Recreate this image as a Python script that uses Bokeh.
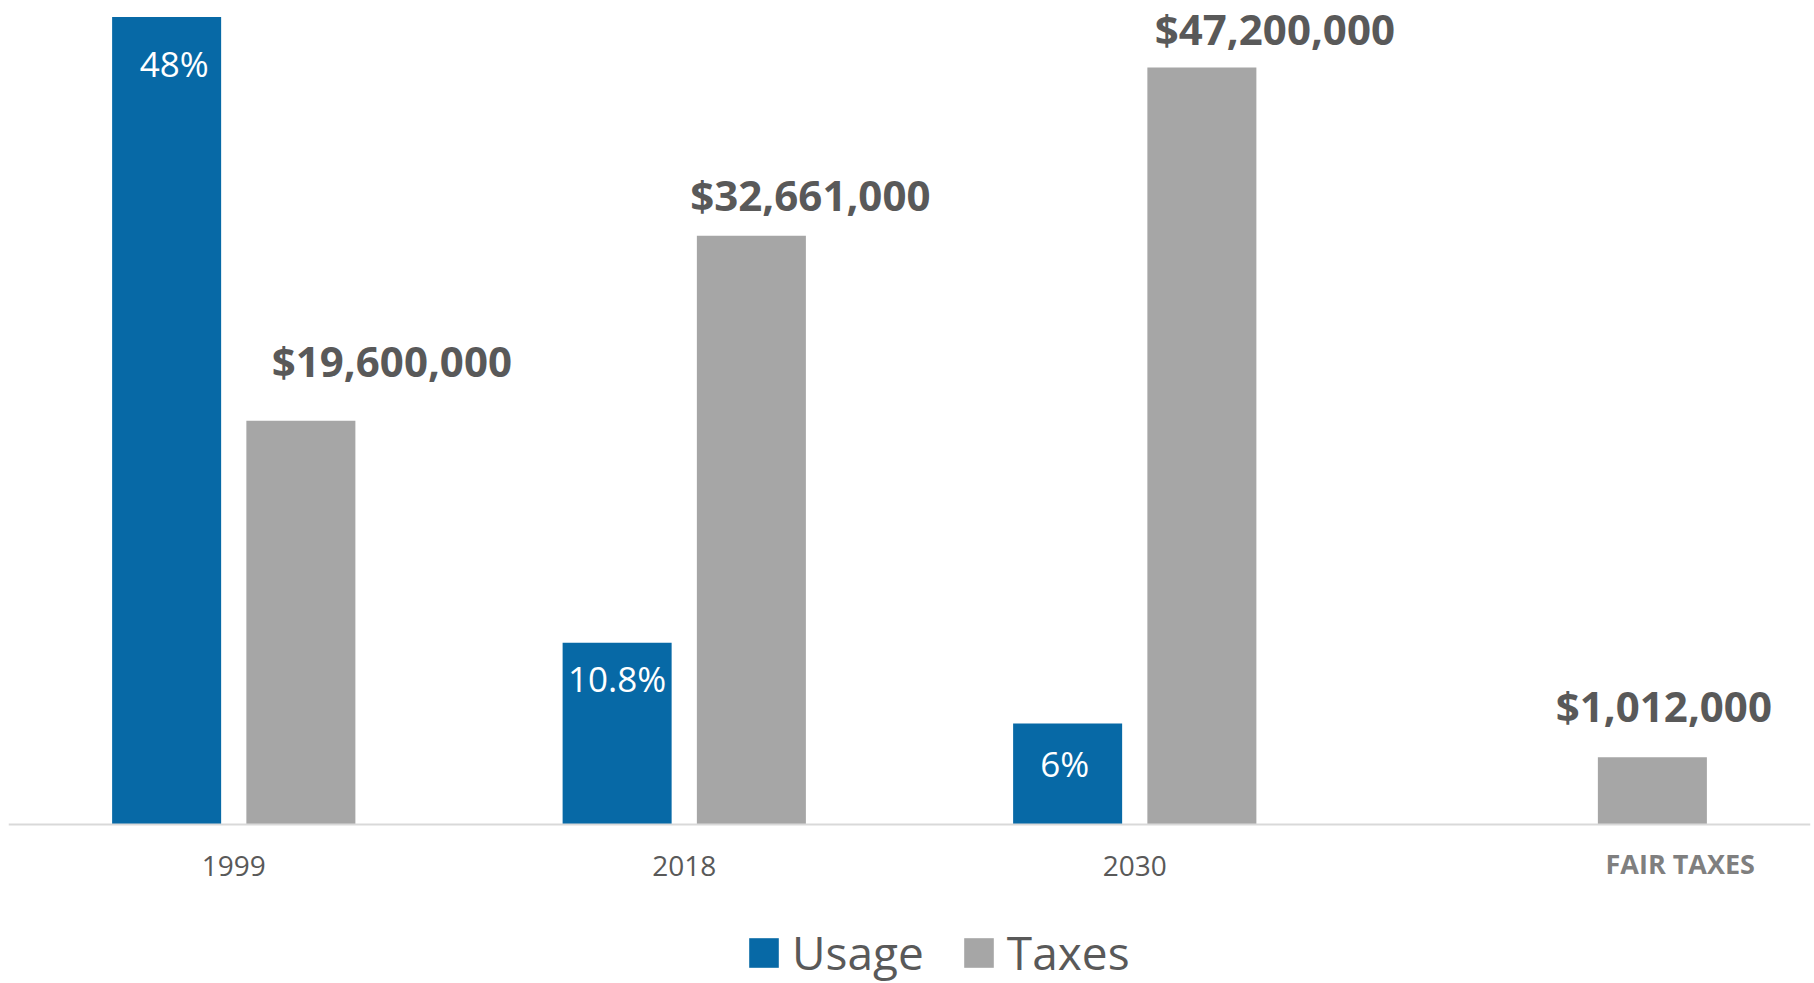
from bokeh.plotting import figure
from bokeh.models import ColumnDataSource, FactorRange, Range1d, LabelSet, Legend, LegendItem, Span
from bokeh.transform import dodge
from bokeh.core.properties import value
from bokeh.embed import file_html
from bokeh.resources import INLINE

# ---- data ----
categories = ["1999", "2018", "2030", "FAIR TAXES"]
usage = [48, 10.8, 6, 0]
taxes = [24, 35, 45, 4]             # bar heights as drawn
usage_labels = ["48%", "10.8%", "6%", ""]
taxes_labels = ["$19,600,000", "$32,661,000", "$47,200,000", "$1,012,000"]

# ---- layout / style tweaks for labels (pixels) ----
usage_dx = [7.5, 0, -3, 0]
usage_dy = [-60, -49, -53, 0]
taxes_dx = [91, 59, 73, 11.5]
taxes_dy = [44, 24.5, 22, 35]
cat_dx = [0, 0, 0, 95]
cat_dy = [-51, -51, -51, -49]
cat_style = ["normal", "normal", "normal", "bold"]
cat_color = ["#595959", "#595959", "#595959", "#7F7F7F"]
cat_size = ["28px", "28px", "28px", "27px"]

BLUE = "#0769A6"
GREY = "#A6A6A6"
TEXT = "#595959"
FONT = "Open Sans"

# ---- canvas geometry ----
W, H = 1814, 983
ZERO_PX = 824      # pixel row of the baseline (value 0)
TOP_PX = 16.5      # pixel row of value Y_MAX
Y_MAX = 48
ppu = (ZERO_PX - TOP_PX) / Y_MAX
y_start = -(H - ZERO_PX) / ppu
y_end = Y_MAX + TOP_PX / ppu

src = ColumnDataSource(dict(
    cat=categories, usage=usage, taxes=taxes, zero=[0] * len(categories),
    ulab=usage_labels, tlab=taxes_labels,
    udx=usage_dx, udy=usage_dy, tdx=taxes_dx, tdy=taxes_dy,
    cdx=cat_dx, cdy=cat_dy, cstyle=cat_style, ccolor=cat_color, csize=cat_size,
))

p = figure(
    x_range=FactorRange(*categories, range_padding=0),
    y_range=Range1d(y_start, y_end),
    width=W, height=H,
    output_backend="svg", toolbar_location=None,
    min_border_left=8, min_border_right=4, min_border_top=0, min_border_bottom=0,
)
p.outline_line_color = None
p.xgrid.grid_line_color = None
p.ygrid.grid_line_color = None
p.xaxis.visible = False
p.yaxis.visible = False
p.background_fill_color = "white"
p.border_fill_color = "white"

OFF = 0.149
BW = 0.242
r_u = p.vbar(x=dodge("cat", -OFF, range=p.x_range), top="usage", width=BW,
             source=src, fill_color=BLUE, line_color=None)
r_t = p.vbar(x=dodge("cat", OFF, range=p.x_range), top="taxes", width=BW,
             source=src, fill_color=GREY, line_color=None)

# category baseline (x axis line)
p.add_layout(Span(location=0, dimension="width", line_color="#D9D9D9", line_width=2))

ul = LabelSet(x=dodge("cat", -OFF, range=p.x_range), y="usage", text="ulab",
              x_offset="udx", y_offset="udy", source=src,
              text_align="center", text_baseline="alphabetic",
              text_font=value(FONT), text_font_size="35px", text_color="white")
tl = LabelSet(x=dodge("cat", OFF, range=p.x_range), y="taxes", text="tlab",
              x_offset="tdx", y_offset="tdy", source=src,
              text_align="center", text_baseline="alphabetic",
              text_font=value(FONT), text_font_size="42px", text_font_style="bold",
              text_color=TEXT)
cl = LabelSet(x="cat", y="zero", text="cat",
              x_offset="cdx", y_offset="cdy", source=src,
              text_align="center", text_baseline="alphabetic",
              text_font=value(FONT), text_font_size="csize", text_font_style="cstyle",
              text_color="ccolor")
p.add_layout(ul)
p.add_layout(tl)
p.add_layout(cl)

legend = Legend(items=[LegendItem(label="Usage", renderers=[r_u]),
                       LegendItem(label="Taxes", renderers=[r_t])],
                orientation="horizontal", location=(737, 0),
                glyph_width=37, glyph_height=37, label_standoff=10, spacing=36,
                padding=0, margin=0, border_line_color=None, background_fill_alpha=0,
                label_text_font=FONT, label_text_font_size="46px", label_text_color=TEXT)
p.add_layout(legend)

open("out.html", "w").write(file_html(p, INLINE))
